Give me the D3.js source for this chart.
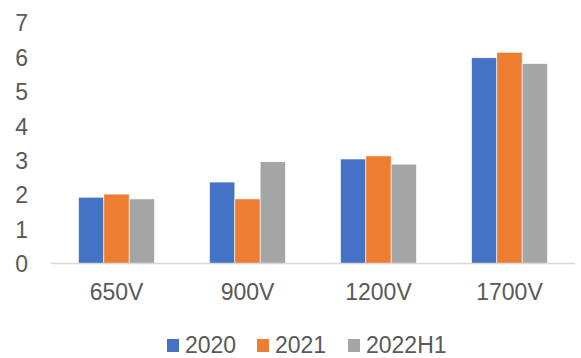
<!DOCTYPE html>
<html>
<head>
<meta charset="utf-8">
<script src="https://cdn.jsdelivr.net/npm/d3@7"></script>
<style>
  html, body { margin: 0; padding: 0; background: #fff; }
  svg { display: block; font-family: "Liberation Sans", Arial, sans-serif; }
</style>
</head>
<body>
<svg id="chart" width="581" height="358"></svg>
<script>
// Voltage classes and yearly values
const categories = ["650V", "900V", "1200V", "1700V"];
const seriesNames = ["2020", "2021", "2022H1"];
const values2020 = [1.94, 2.38, 3.05, 5.99];
const values2021 = [2.03, 1.89, 3.14, 6.15];
const values2022H1 = [1.89, 2.97, 2.90, 5.82];
const yTicks = [0, 1, 2, 3, 4, 5, 6, 7];
const colors = ["#4472C4", "#ED7D31", "#A5A5A5"];

(function () {
  const seriesValues = [values2020, values2021, values2022H1];
  const rows = categories.map((c, i) => ({
    category: c,
    items: seriesNames.map((s, j) => ({ series: s, value: seriesValues[j][i] }))
  }));

  const svg = d3.select("#chart");
  const plot = { left: 51, right: 575, top: 23, bottom: 264 };
  const fontSize = 23;

  const x0 = d3.scaleBand().domain(categories).range([plot.left, plot.right])
    .paddingInner(0.42).paddingOuter(0.21);
  const x1 = d3.scaleBand().domain(seriesNames).range([0, x0.bandwidth()]);
  const y = d3.scaleLinear().domain([0, 7]).range([plot.bottom, plot.top]);
  const color = d3.scaleOrdinal().domain(seriesNames).range(colors);

  // Y tick labels (no gridlines)
  svg.append("g").selectAll("text").data(yTicks).join("text")
    .attr("x", 28).attr("y", d => y(d)).attr("dy", "0.36em")
    .attr("text-anchor", "end").attr("fill", "#595959")
    .attr("font-size", fontSize).text(d => d);

  // Bars
  svg.append("g").selectAll("g").data(rows).join("g")
    .attr("transform", d => `translate(${x0(d.category)},0)`)
    .selectAll("rect").data(d => d.items).join("rect")
    .attr("x", d => x1(d.series))
    .attr("width", x1.bandwidth())
    .attr("y", d => y(d.value))
    .attr("height", d => y(0) - y(d.value))
    .attr("fill", d => color(d.series))
    .attr("stroke", "#fff").attr("stroke-width", 0.6);

  // Baseline
  svg.append("line").attr("x1", plot.left).attr("x2", plot.right)
    .attr("y1", y(0) - 0.5).attr("y2", y(0) - 0.5)
    .attr("stroke", "#D9D9D9").attr("stroke-width", 1.5);

  // Category labels
  svg.append("g").selectAll("text").data(categories).join("text")
    .attr("x", d => x0(d) + x0.bandwidth() / 2).attr("y", 300)
    .attr("text-anchor", "middle").attr("fill", "#595959")
    .attr("font-size", fontSize).text(d => d);

  // Legend
  const legendX = [167, 257, 348];
  const legend = svg.append("g").selectAll("g").data(seriesNames).join("g")
    .attr("transform", (d, i) => `translate(${legendX[i]},0)`);
  legend.append("rect").attr("x", 0).attr("y", 339).attr("width", 12).attr("height", 13)
    .attr("fill", d => color(d));
  legend.append("text").attr("x", 18).attr("y", 352.5)
    .attr("fill", "#595959").attr("font-size", fontSize).text(d => d);
})();
</script>
</body>
</html>
